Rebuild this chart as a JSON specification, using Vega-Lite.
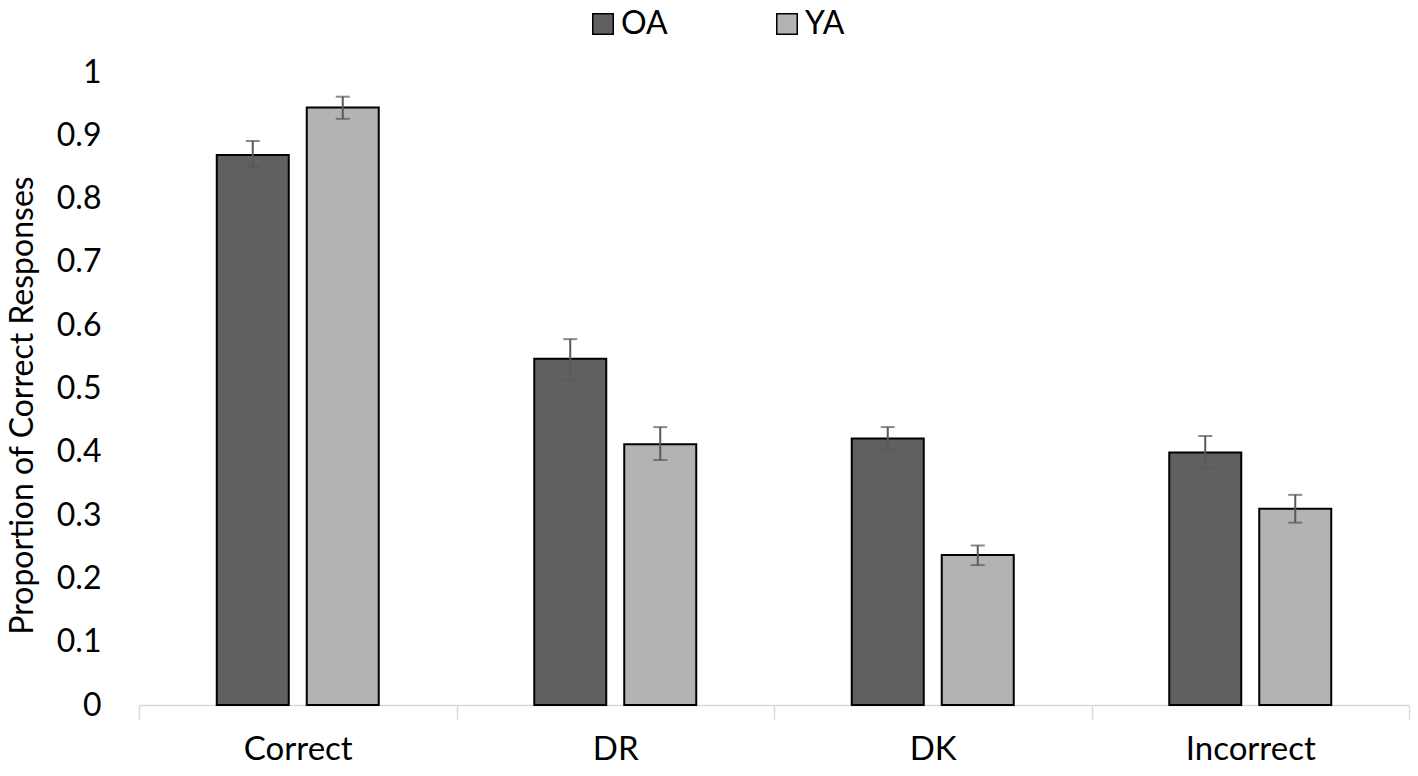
{
  "$schema": "https://vega.github.io/schema/vega-lite/v6.json",
  "autosize": {"type": "none"},
  "width": 1270,
  "height": 633,
  "padding": {"left": 139, "top": 72, "right": 9, "bottom": 71},
  "background": "white",
  "config": {
    "view": {"stroke": null},
    "font": "Lato",
    "axis": {"labelFont": "Lato", "titleFont": "Lato", "labelColor": "black", "titleColor": "black"},
    "legend": {"labelFont": "Lato"}
  },
  "data": {
    "values": [
      {"Response": "Correct", "Group": "OA", "mean": 0.869, "lo": 0.850, "hi": 0.891},
      {"Response": "Correct", "Group": "YA", "mean": 0.944, "lo": 0.926, "hi": 0.961},
      {"Response": "DR", "Group": "OA", "mean": 0.547, "lo": 0.513, "hi": 0.578},
      {"Response": "DR", "Group": "YA", "mean": 0.412, "lo": 0.387, "hi": 0.439},
      {"Response": "DK", "Group": "OA", "mean": 0.421, "lo": 0.403, "hi": 0.439},
      {"Response": "DK", "Group": "YA", "mean": 0.237, "lo": 0.221, "hi": 0.252},
      {"Response": "Incorrect", "Group": "OA", "mean": 0.399, "lo": 0.374, "hi": 0.425},
      {"Response": "Incorrect", "Group": "YA", "mean": 0.310, "lo": 0.288, "hi": 0.332}
    ]
  },
  "encoding": {
    "x": {
      "field": "Response",
      "type": "nominal",
      "sort": ["Correct", "DR", "DK", "Incorrect"],
      "scale": {"paddingInner": 0, "paddingOuter": 0},
      "axis": {
        "title": null,
        "labelAngle": 0,
        "labelFontSize": 33,
        "labelPadding": 14,
        "tickBand": "extent",
        "tickSize": 14,
        "tickWidth": 1.5,
        "tickColor": "#d9d9d9",
        "domainColor": "#d9d9d9",
        "domainWidth": 1.5,
        "grid": false
      }
    },
    "xOffset": {
      "field": "Group",
      "type": "nominal",
      "sort": ["OA", "YA"],
      "scale": {"paddingInner": 0.2, "paddingOuter": 0.864}
    }
  },
  "layer": [
    {
      "mark": {"type": "bar", "stroke": "black", "strokeWidth": 2},
      "encoding": {
        "y": {
          "field": "mean",
          "type": "quantitative",
          "scale": {"domain": [0, 1], "nice": false},
          "axis": {
            "title": "Proportion of Correct Responses",
            "titleFontSize": 32,
            "titleFontWeight": "normal",
            "titleX": -117,
            "titleY": 333,
            "titleAngle": -90,
            "titleAlign": "center",
            "titleBaseline": "middle",
            "values": [0, 0.1, 0.2, 0.3, 0.4, 0.5, 0.6, 0.7, 0.8, 0.9, 1],
            "format": ".1~f",
            "labelFontSize": 32,
            "labelPadding": 38,
            "ticks": false,
            "domain": false,
            "grid": false
          }
        },
        "color": {
          "field": "Group",
          "type": "nominal",
          "scale": {"domain": ["OA", "YA"], "range": ["#606060", "#b3b3b3"]},
          "legend": {
            "title": null,
            "orient": "none",
            "direction": "horizontal",
            "legendX": 448,
            "legendY": -64,
            "symbolType": "square",
            "symbolSize": 420,
            "symbolStrokeColor": "black",
            "symbolStrokeWidth": 1.5,
            "symbolOpacity": 1,
            "labelFontSize": 32,
            "labelColor": "black",
            "labelOffset": 2,
            "columnPadding": 103
          }
        }
      }
    },
    {
      "mark": {"type": "rule", "color": "#595959", "strokeWidth": 2},
      "encoding": {
        "y": {"field": "lo", "type": "quantitative"},
        "y2": {"field": "hi"}
      }
    },
    {
      "mark": {"type": "tick", "color": "#595959", "thickness": 2, "size": 14},
      "encoding": {"y": {"field": "lo", "type": "quantitative"}}
    },
    {
      "mark": {"type": "tick", "color": "#595959", "thickness": 2, "size": 14},
      "encoding": {"y": {"field": "hi", "type": "quantitative"}}
    }
  ]
}
